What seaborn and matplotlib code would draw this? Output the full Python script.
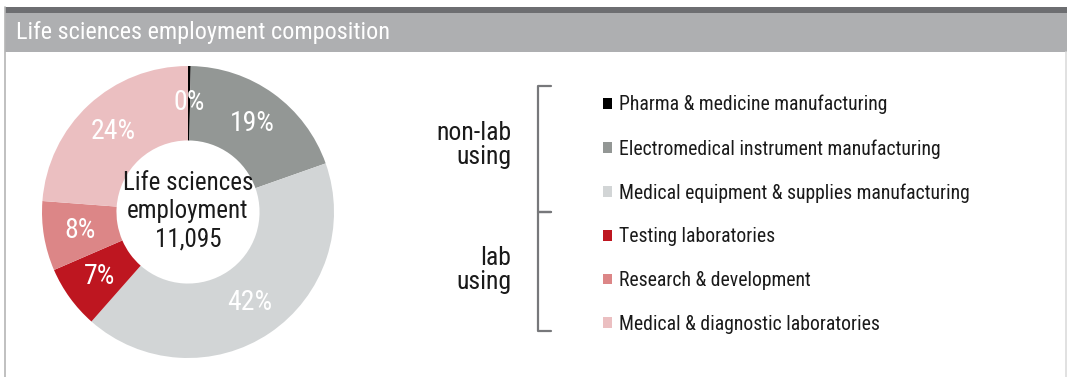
import matplotlib
matplotlib.use('Agg')
import matplotlib.pyplot as plt
import seaborn as sns
from matplotlib.patches import Rectangle

# Data
categories = ['Pharma & medicine manufacturing',
              'Electromedical instrument manufacturing',
              'Medical equipment & supplies manufacturing',
              'Testing laboratories',
              'Research & development',
              'Medical & diagnostic laboratories']
shares = [0.3, 19.3, 41.9, 7.0, 7.7, 23.8]
group_labels = ['non-lab\nusing', 'lab\nusing']
total_employment = 11095
title = 'Life sciences employment composition'

palette = sns.color_palette(['#000000', '#939795', '#d2d5d6',
                             '#be1620', '#dc8687', '#ebbfc1'])

sns.set_theme(style='white')
plt.rcParams['font.family'] = ['Roboto Condensed', 'DejaVu Sans']
plt.rcParams['font.stretch'] = 'condensed'

W, H = 1067, 377
fig = plt.figure(figsize=(W / 100, H / 100), dpi=100)

# background axes in pixel coordinates (header band, frame, bracket)
bg = fig.add_axes([0, 0, 1, 1])
bg.set_xlim(0, W)
bg.set_ylim(H, 0)
bg.axis('off')
bg.add_patch(Rectangle((5, 7), W - 5, 6, color='#6d6e71', lw=0))
bg.add_patch(Rectangle((5, 13), W - 5, 39, color='#aeafb1', lw=0))
bg.plot([5, 5], [7, H], color='#b5b5b5', lw=1.2)
bg.plot([1065.5, 1065.5], [52, H], color='#dcdcdc', lw=1.2)
bg.text(16, 33, title, color='white', fontsize=17.5, va='center', ha='left')

bc = '#77787b'
bg.plot([551, 538, 538, 551], [86, 86, 212, 212], color=bc, lw=1.6)
bg.plot([551, 538, 538, 551], [212, 212, 331, 331], color=bc, lw=1.6)
bg.text(511, 145, group_labels[0], ha='right', va='center', fontsize=18.5,
        linespacing=1.05, color='#1a1a1a')
bg.text(511, 270, group_labels[1], ha='right', va='center', fontsize=18.5,
        linespacing=1.05, color='#1a1a1a')

# donut
cx, cy, r = 188, 212, 146
ax = fig.add_axes([(cx - r) / W, (H - cy - r) / H, 2 * r / W, 2 * r / H])
wedges, texts, autotexts = ax.pie(
    shares, colors=palette, startangle=90, counterclock=False,
    autopct=lambda p: f'{p:.0f}%', pctdistance=0.75,
    wedgeprops=dict(width=0.51, linewidth=0),
    textprops=dict(color='white', fontsize=20))
ax.set_xlim(-1, 1)
ax.set_ylim(-1, 1)
ax.text(0, 0.005, f'Life sciences\nemployment\n{total_employment:,}',
        ha='center', va='center', fontsize=18, linespacing=1.2,
        color='#1a1a1a')

fig.legend(wedges, categories, loc='upper left',
           bbox_to_anchor=(603 / W, 1 - 95 / H), frameon=False,
           fontsize=14.2, labelcolor='#1a1a1a',
           handlelength=0.46, handleheight=0.46,
           handletextpad=0.36, labelspacing=1.25, borderpad=0,
           borderaxespad=0)

fig.savefig('out.png', dpi=100)
